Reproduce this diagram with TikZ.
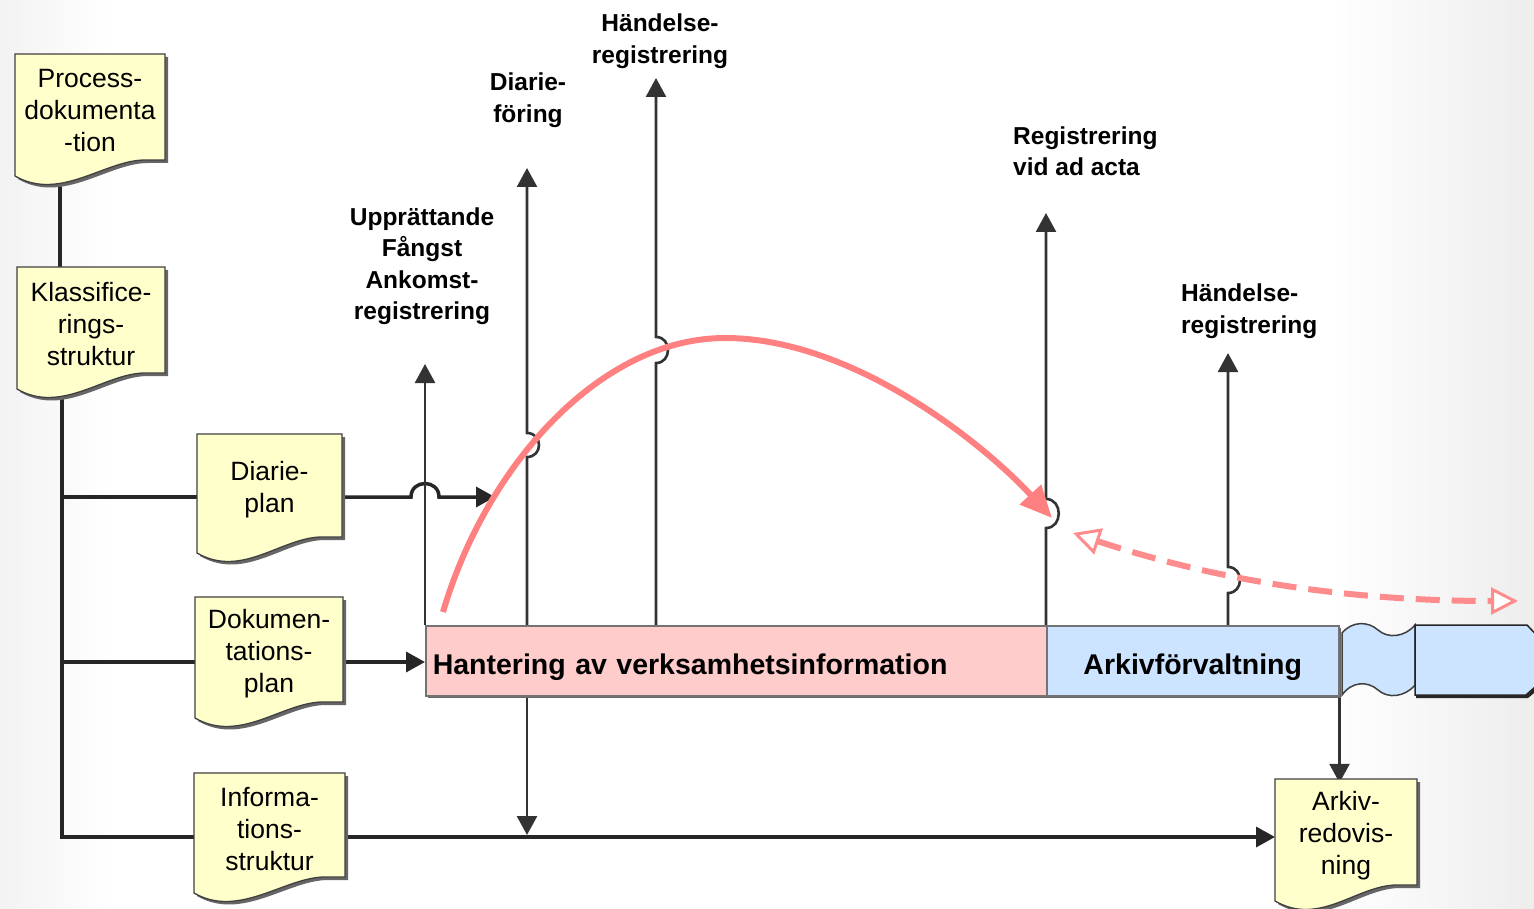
\documentclass[tikz,border=0pt]{standalone}
\usepackage{fontspec}
\setmainfont{Liberation Sans}
\usetikzlibrary{arrows.meta,calc}

\pgfdeclarelayer{paper}
\pgfdeclarelayer{wires}
\pgfsetlayers{paper,wires,main}

\definecolor{docfill}{RGB}{255,255,204}
\definecolor{barpink}{RGB}{255,204,204}
\definecolor{barblue}{RGB}{204,228,255}
\definecolor{flowred}{RGB}{255,128,128}
\definecolor{flowpale}{RGB}{255,140,140}

\tikzset{
  doctext/.style={align=center, inner sep=0pt, font=\fontsize{26.5}{32}\selectfont},
  docbody/.style={fill=docfill, draw=black!75, line width=1.3pt},
  docshadow/.style={fill=black!60},
  barbox/.style={draw=black!55, line width=1.5pt, minimum height=70pt, inner ysep=0pt,
    text height=27pt, text depth=0pt, font=\bfseries\fontsize{28.5}{34}\selectfont},
  lbl/.style={inner sep=0pt, font=\bfseries\fontsize{24.5}{31.5}\selectfont},
  wire/.style={line width=3.5pt, draw=black!85},
  vline/.style={line width=2.6pt, draw=black!80},
  arrowend/.style={-{Triangle[length=19pt,width=20pt]}},
  redflow/.style={draw=flowred, line width=6pt, -{Triangle[length=32pt,width=28pt]}},
  redback/.style={draw=flowpale, line width=6pt, dash pattern=on 24pt off 12pt,
    {Triangle[open,fill=white,length=27pt,width=27pt,line width=3pt]}-{Triangle[open,fill=white,length=27pt,width=27pt,line width=3pt]}},
}

% document symbol: #1 name, #2 left, #3 top, #4 right, #5 bottom of right edge,
% #6 level of the connectors, #7 text
\newcommand\docshape[7]{%
  \fill[docshadow] (#2+3,#3+3) -- (#4+3,#3+3) -- (#4+3,#5+3) -- (#4-17,#5+3)
    .. controls (#4-57,#5+3) and (#2+48,#5+45) .. (#2+3,#5+19) -- cycle;
  \filldraw[docbody] (#2,#3) -- (#4,#3) -- (#4,#5) -- (#4-20,#5)
    .. controls (#4-60,#5) and (#2+45,#5+42) .. (#2,#5+16) -- cycle;
  \node[doctext, minimum width={(#4-#2)*1pt}, minimum height={(#5-#3)*1pt}]
    (#1) at ({(#2+#4)/2},{(#3+#5)/2+4}) {#7};
  \coordinate (#1-in) at (#2,#6);
  \coordinate (#1-out) at (#4,#6);
}

\begin{document}
\begin{tikzpicture}[x=1pt, y=-1pt]
\useasboundingbox (0,0) rectangle (1534,909);

\begin{pgfonlayer}{paper}
  \fill[white] (0,0) rectangle (1534,909);
  \shade[left color=black!5, right color=white] (0,0) rectangle (110,909);
  \shade[left color=white, right color=black!7] (1330,0) rectangle (1534,909);
\end{pgfonlayer}

% documents
\docshape{pd}{15}{54}{165}{160}{107}{Process-\\dokumenta\\-tion}
\docshape{ks}{17}{267}{165}{373}{320}{Klassifice-\\rings-\\struktur}
\docshape{dp}{197}{434}{342}{537}{497}{Diarie-\\plan}
\docshape{dk}{195}{597}{343}{702}{662}{Dokumen-\\tations-\\plan}
\docshape{is}{194}{773}{345}{877}{837}{Informa-\\tions-\\struktur}
\docshape{ar}{1275}{779}{1417}{885}{837}{Arkiv-\\redovis-\\ning}

% process bar
\fill[black!60] (428,628) rectangle (1341,698);
\node[barbox, fill=barpink, anchor=north west, text width=607pt, inner xsep=7pt, align=left]
  (hv) at (425,625) {Hantering av verksamhetsinformation};
\node[barbox, fill=barblue, anchor=north west, text width=278pt, inner xsep=7pt, align=center]
  (ak) at (1046,625) {Arkivförvaltning};

% continuation of the bar
\filldraw[fill=barblue, draw=black!75, line width=1.5pt]
  (1342,633) .. controls (1352,621) and (1368,621) .. (1378,630)
  .. controls (1388,639) and (1405,637) .. (1415,625) -- (1415,685)
  .. controls (1405,697) and (1388,699) .. (1378,690)
  .. controls (1368,681) and (1352,681) .. (1342,695) -- cycle;
\fill[black!85] (1416,628) -- (1529,628) -- (1545,645) -- (1545,684) -- (1528,698) -- (1416,698) -- cycle;
\filldraw[fill=barblue, draw=black!85, line width=1.5pt]
  (1415,625) -- (1527,625) -- (1543,642) -- (1543,680) -- (1526,695) -- (1415,695) -- cycle;

% labels of the registration points
\node[lbl, align=center] (l-upp) at (422,266) {Upprättande\\Fångst\\Ankomst-\\registrering};
\node[lbl, align=center] (l-dia) at (528,100) {Diarie-\\föring};
\node[lbl, align=center] (l-hr1) at (660,41) {Händelse-\\registrering};
\node[lbl, align=left, anchor=west] (l-acta) at (1013,151) {Registrering\\vid ad acta};
\node[lbl, align=left, anchor=west] (l-hr2) at (1181,311) {Händelse-\\registrering};

\coordinate (tip-upp) at (425,364);
\coordinate (tip-dia) at (527,168);
\coordinate (tip-hr1) at (656,78);
\coordinate (tip-acta) at (1046,213);
\coordinate (tip-hr2) at (1228,353);
\coordinate (tip-dplan) at (495,497);
\coordinate (bus) at (62,400);

\begin{pgfonlayer}{wires}
  % structure lines on the left
  \draw[wire] ([xshift=-30pt]pd.center) -- ([xshift=-30pt]pd.center |- ks.center);
  \draw[wire] (bus |- ks.center) |- (is-in);
  \draw[wire] (bus |- dp-in) -- (dp-in);
  \draw[wire] (bus |- dk-in) -- (dk-in);
  \draw[wire, arrowend] (dp-out) -- (411,497) .. controls (411,479) and (439,479) .. (439,497) -- (tip-dplan);
  \draw[wire, arrowend] (dk-out) -- (hv.west |- dk-out);
  \draw[wire, arrowend] (is-out) -- (ar-in);

  % registration points
  \draw[vline, arrowend] (hv.north west) -- (tip-upp);
  \draw[vline, arrowend] (tip-dia |- hv.north) -- (527,457)
    .. controls (543,457) and (543,433) .. (527,433) -- (tip-dia);
  \draw[vline, arrowend, shorten >=2pt] (tip-dia |- hv.south) -- (tip-dia |- is-out);
  \draw[vline, arrowend] (tip-hr1 |- hv.north) -- (656,363)
    .. controls (672,363) and (672,337) .. (656,337) -- (tip-hr1);
  \draw[vline, arrowend] (tip-acta |- hv.north) -- (1046,528)
    .. controls (1063,528) and (1063,499) .. (1046,499) -- (tip-acta);
  \draw[vline, arrowend] (tip-hr2 |- ak.north) -- (1228,593)
    .. controls (1244,593) and (1244,567) .. (1228,567) -- (tip-hr2);
  \draw[vline, arrowend] (ak.south east) -- (ak.south east |- ar.north);
\end{pgfonlayer}

% life cycle of the information
\draw[redflow] (443,612) .. controls (486,466) and (600,338) .. (725,338)
  .. controls (850,338) and (980,440) .. (1052,518);
\draw[redback] (1073,533) .. controls (1200,575) and (1330,601) .. (1518,601);
\end{tikzpicture}
\end{document}
